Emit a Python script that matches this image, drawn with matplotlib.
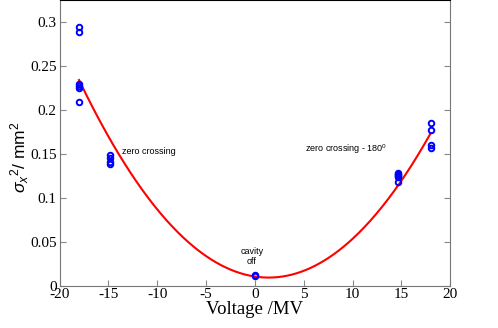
import numpy as np
import matplotlib.pyplot as plt

plt.rcParams['font.family'] = ['Liberation Serif', 'DejaVu Serif']
plt.rcParams['axes.unicode_minus'] = False
plt.rcParams['mathtext.fontset'] = 'custom'
plt.rcParams['mathtext.rm'] = 'Liberation Sans'
plt.rcParams['mathtext.it'] = 'Liberation Sans:italic'

# measured beam size squared vs cavity voltage
volt = [-18, -18, -18, -18, -18, -18,
        -14.8, -14.8, -14.8, -14.8,
        0, 0,
        14.7, 14.7, 14.7, 14.7, 14.7, 14.7,
        18, 18, 18, 18]
sigma2 = [0.294, 0.288, 0.2295, 0.227, 0.2245, 0.2085,
          0.148, 0.145, 0.141, 0.138,
          0.0125, 0.0115,
          0.128, 0.127, 0.126, 0.125, 0.123, 0.118,
          0.185, 0.177, 0.160, 0.157]

# quadratic fit coefficients (a, b, c)
fit_coef = [0.000596, -0.00168, 0.0104]
fit_range = [-18, 18]

fig = plt.figure(figsize=(4.98, 3.28), dpi=100)
ax = fig.add_axes([0.1195, 0.129, 0.7845, 0.871])

xf = np.linspace(fit_range[0], fit_range[1], 300)
ax.plot(xf, np.polyval(fit_coef, xf), color='red', lw=1.5)
ax.plot(volt, sigma2, 'o', mfc='none', mec='blue', mew=1.4, ms=4)

ax.set_xlim(-20, 20)
ax.set_ylim(0, 0.3247)
ax.set_xticks([-20, -15, -10, -5, 0, 5, 10, 15, 20])
ax.set_yticks([0, 0.05, 0.1, 0.15, 0.2, 0.25, 0.3])
ax.set_yticklabels(['0', '0.05', '0.1', '0.15', '0.2', '0.25', '0.3'])
ax.tick_params(direction='in', length=4, color='#888888', right=True,
               labelsize=11, pad=2)
for s in ['left', 'right', 'bottom']:
    ax.spines[s].set_color('#777777')
ax.spines['top'].set_color('black')

ax.set_xlabel('Voltage /MV', fontsize=13.5, labelpad=0)
ax.set_ylabel(r'$\sigma_x$$^2$/ mm$^2$', family='Liberation Sans', fontsize=12.5)
ax.yaxis.set_label_coords(-0.072, 0.45)

ax.text(-13.6, 0.153, 'zero crossing', family='Liberation Sans', fontsize=6.5,
        va='center')
ax.text(5.1, 0.155, 'zero crossing - 180$^0$', family='Liberation Sans',
        fontsize=6.5, va='center')
ax.text(-0.3, 0.033, 'cavity\noff', family='Liberation Sans', fontsize=6.5,
        ha='center', va='center', linespacing=1.1)

fig.savefig('out.png', dpi=100)
